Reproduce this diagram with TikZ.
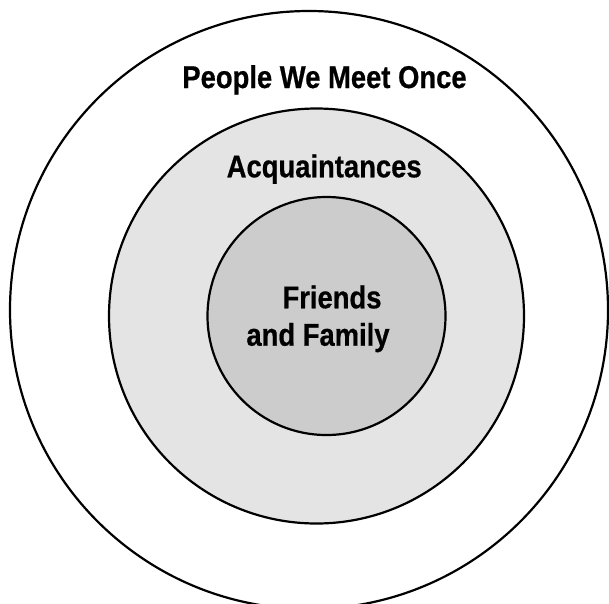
\documentclass[tikz,border=0pt]{standalone}
\usepackage{fontspec}
\setmainfont[FakeStretch=0.87,FakeBold=0.6]{Liberation Sans}
\begin{document}
\begin{tikzpicture}[x=1pt,y=-1pt,
  ring/.style={draw=black,line width=2.2pt},
  lbl/.style={inner sep=0pt,anchor=base,font=\fontsize{31.5}{37}\selectfont\bfseries,text=black}]
\useasboundingbox (0,0) rectangle (609,603);
\fill[white] (0,0) rectangle (609,603);
\node[ring,circle,minimum size=598pt,inner sep=0pt,fill=white] (outer) at (309,310) {};
\node[ring,circle,minimum size=415pt,inner sep=0pt,fill={rgb,255:red,228;green,228;blue,228}] (middle) at (316.5,316) {};
\node[ring,circle,minimum size=238pt,inner sep=0pt,fill={rgb,255:red,204;green,204;blue,204}] (inner) at (326.5,316) {};
\node[lbl] (once) at (324.5,88) {People We Meet Once};
\node[lbl] (acq) at (324.2,177.3) {Acquaintances};
\node[lbl] (friends) at (332,308.3) {Friends};
\node[lbl] (family) at (318,345.7) {and Family};
\end{tikzpicture}
\end{document}
